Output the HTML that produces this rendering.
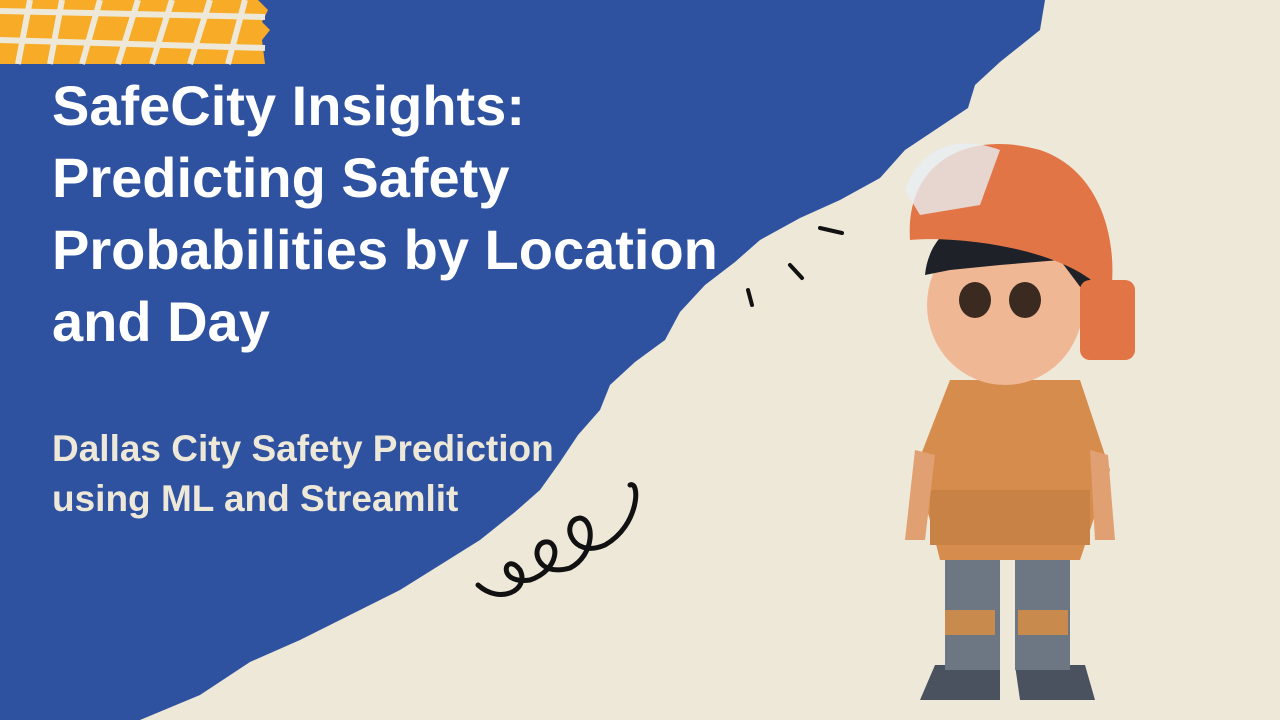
<!DOCTYPE html>
<html><head><meta charset="utf-8">
<style>
html,body{margin:0;padding:0;width:1280px;height:720px;overflow:hidden;background:#ede8d8;font-family:"Liberation Sans",sans-serif}
svg{position:absolute;left:0;top:0}
.t{position:absolute;left:52px;color:#fff;font-weight:bold;font-size:56px;line-height:72px;top:70px;white-space:nowrap}
.s{position:absolute;left:52px;color:#ede8d8;font-weight:bold;font-size:37px;line-height:50px;top:424px;white-space:nowrap}
</style></head><body>
<svg width="1280" height="720">
<path fill="#2f52a0" d="M0,0 L1045,0 L1040,30 L1000,62 L975,85 L968,108 L935,130 L905,150 L880,178 L840,200 L800,218 L760,240 L735,262 L705,285 L680,312 L665,340 L635,362 L610,385 L600,410 L578,435 L560,462 L540,490 L515,512 L480,540 L440,565 L400,590 L350,615 L300,640 L250,662 L200,695 L140,720 L0,720 Z"/>
<g>
<polygon points="0,0 258,0 268,10 262,22 270,30 262,40 265,64 0,64" fill="#f7ab26"/>
<g stroke="#ede8d8" stroke-width="6">
<line x1="0" y1="11" x2="265" y2="17"/><line x1="0" y1="40" x2="265" y2="48"/>
<line x1="30" y1="0" x2="18" y2="64"/><line x1="62" y1="0" x2="50" y2="64"/><line x1="100" y1="0" x2="82" y2="64"/>
<line x1="138" y1="0" x2="118" y2="64"/><line x1="172" y1="0" x2="152" y2="64"/><line x1="210" y1="0" x2="190" y2="64"/>
<line x1="245" y1="0" x2="228" y2="64"/>
</g></g>
<g stroke="#111" stroke-width="4" stroke-linecap="round">
<line x1="748" y1="290" x2="752" y2="305"/><line x1="790" y1="265" x2="802" y2="278"/><line x1="820" y1="228" x2="842" y2="233"/>
</g>
<path fill="none" stroke="#111" stroke-width="5" stroke-linecap="round"
d="M478,585 C500,605 530,590 520,570 C505,550 495,585 530,580 C560,570 560,540 545,542 C530,545 535,578 570,568 C595,555 595,520 580,518 C560,520 570,560 605,545 C640,525 640,480 630,485"/>
<g>
<path d="M935,665 L1000,665 L1000,700 L920,700 Z" fill="#4a5260"/>
<path d="M1015,665 L1085,665 L1095,700 L1020,700 Z" fill="#4a5260"/>
<rect x="945" y="560" width="55" height="110" fill="#6d7683"/>
<rect x="1015" y="560" width="55" height="110" fill="#6d7683"/>
<rect x="945" y="610" width="50" height="25" fill="#c98a4d"/>
<rect x="1018" y="610" width="50" height="25" fill="#c98a4d"/>
<path d="M950,380 L1080,380 L1110,470 L1090,530 L1080,560 L940,560 L930,520 L915,470 Z" fill="#d68c4c"/>
<rect x="930" y="490" width="160" height="55" fill="#c98246"/>
<path d="M915,450 L935,455 L925,540 L905,540 Z" fill="#e0a072"/>
<path d="M1090,450 L1108,455 L1115,540 L1095,540 Z" fill="#e0a072"/>
<ellipse cx="1005" cy="305" rx="78" ry="80" fill="#f0b795"/>
<path d="M925,275 C930,220 990,200 1040,215 C1080,230 1095,265 1090,300 L1060,260 L1000,265 L950,270 Z" fill="#1e2228"/>
<path d="M910,240 C905,160 970,130 1040,150 C1100,170 1120,240 1110,300 C1080,250 960,235 910,240 Z" fill="#e27545"/>
<path d="M905,190 C920,145 960,135 1000,150 L980,205 L920,215 Z" fill="#e8eef2" opacity="0.8"/>
<ellipse cx="975" cy="300" rx="16" ry="18" fill="#3a2a20"/>
<ellipse cx="1025" cy="300" rx="16" ry="18" fill="#3a2a20"/>
<rect x="1080" y="280" width="55" height="80" rx="10" fill="#e27545"/>
</g>
</svg>
<div class="t">SafeCity Insights:<br>Predicting Safety<br>Probabilities by Location<br>and Day</div>
<div class="s">Dallas City Safety Prediction<br>using ML and Streamlit</div>
</body></html>
